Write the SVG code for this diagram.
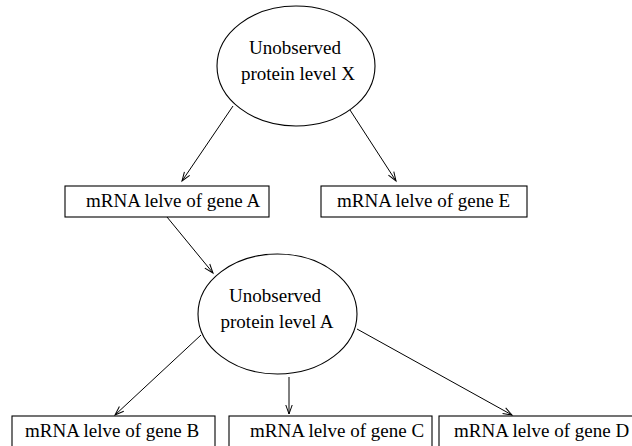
<svg xmlns="http://www.w3.org/2000/svg" width="632" height="446" viewBox="0 0 632 446">
<style>
.n{fill:#fff;stroke:#000;stroke-width:1.1}
.t{font-family:"Liberation Serif","Times New Roman",serif;font-size:19px;fill:#000}
.c{fill:none;stroke:#000;stroke-width:1}
</style>
<defs>
<marker id="ah" markerUnits="userSpaceOnUse" markerWidth="12" markerHeight="10" viewBox="-10 -5 12 10" refX="0" refY="0" orient="auto">
<path d="M-9,-3.2 L0,0 L-9,3.2" fill="none" stroke="#000" stroke-width="1"/>
</marker>
</defs>
<rect width="632" height="446" fill="#fff"/>
<g id="connectors">
<line class="c" x1="233" y1="106" x2="182" y2="181" marker-end="url(#ah)"/>
<line class="c" x1="350" y1="110" x2="396" y2="181" marker-end="url(#ah)"/>
<line class="c" x1="167" y1="217" x2="213" y2="273" marker-end="url(#ah)"/>
<line class="c" x1="201" y1="335" x2="115" y2="415" marker-end="url(#ah)"/>
<line class="c" x1="289" y1="377" x2="289" y2="414" marker-end="url(#ah)"/>
<line class="c" x1="357" y1="329" x2="512" y2="415" marker-end="url(#ah)"/>
</g>
<g id="proteinX">
<ellipse class="n" cx="296" cy="66" rx="79" ry="60"/>
<text class="t" x="295" y="54" text-anchor="middle">Unobserved</text>
<text class="t" x="298" y="80" text-anchor="middle">protein level X</text>
</g>
<g id="geneA">
<rect class="n" x="65" y="186" width="204" height="31"/>
<text class="t" x="86" y="207">mRNA lelve of gene A</text>
</g>
<g id="geneE">
<rect class="n" x="321" y="186" width="206" height="31"/>
<text class="t" x="337" y="207">mRNA lelve of gene E</text>
</g>
<g id="proteinA">
<ellipse class="n" cx="277.5" cy="314" rx="79.5" ry="60"/>
<text class="t" x="275" y="302" text-anchor="middle">Unobserved</text>
<text class="t" x="277" y="328" text-anchor="middle">protein level A</text>
</g>
<g id="geneB">
<rect class="n" x="12" y="416" width="203" height="33"/>
<text class="t" x="25" y="437">mRNA lelve of gene B</text>
</g>
<g id="geneC">
<rect class="n" x="229" y="416" width="203" height="33"/>
<text class="t" x="250" y="437">mRNA lelve of gene C</text>
</g>
<g id="geneD">
<rect class="n" x="439" y="416" width="210" height="33"/>
<text class="t" x="454" y="437">mRNA lelve of gene D</text>
</g>
</svg>
